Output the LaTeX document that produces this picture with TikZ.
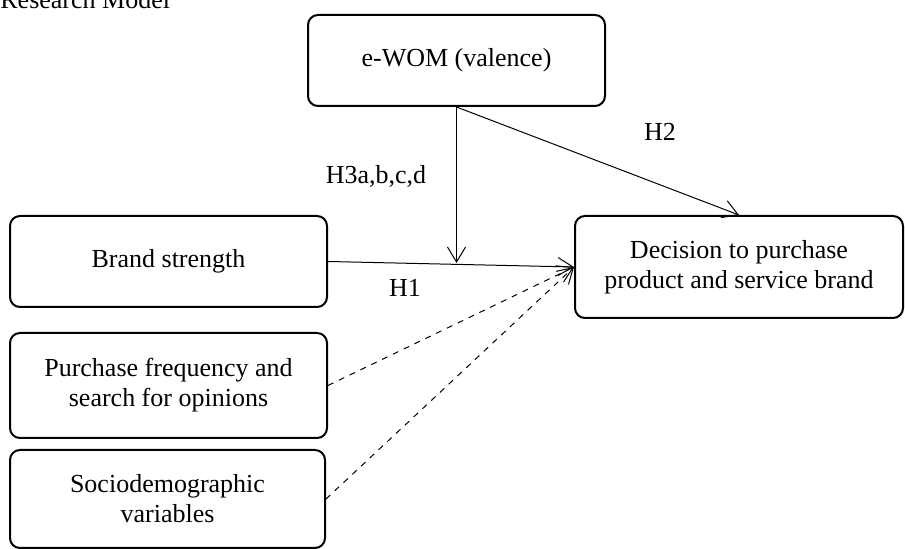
\documentclass[tikz,border=0pt]{standalone}
\usepackage{fontspec}
\setmainfont{Liberation Serif}
\usepackage{tikz}
\usetikzlibrary{arrows,arrows.meta,positioning}
\tikzstyle{box} = [draw,line width=1pt,rounded corners=5pt,align=center,inner sep=2pt]
\tikzstyle{hyp} = [->,line width=0.5pt]
\tikzstyle{ctrl} = [->,dashed,line width=0.5pt]

\begin{document}
\begin{tikzpicture}[x=0.5pt,y=-0.5pt,>={Straight Barb[length=7.5pt,width=9pt]},
	font=\fontsize{13}{15}\selectfont]
	\useasboundingbox (0,0) rectangle (905,549);
	
	\node[anchor=base west,inner sep=0pt] (title) at (0,9) {Research Model};
	
	\node[box,minimum width=148.5pt,minimum height=45.5pt] (ewom) at (456.5,60.5) {e-WOM (valence)};
	\node[box,minimum width=158.5pt,minimum height=45.5pt] (brand) at (168.5,261.5) {Brand strength};
	\node[box,minimum width=158.5pt,minimum height=52.5pt] (purch) at (168.5,385.5) {Purchase frequency and\\search for opinions};
	\node[box,minimum width=157.5pt,minimum height=49pt] (socio) at (167.5,499) {Sociodemographic\\variables};
	\node[box,minimum width=164pt,minimum height=51pt] (dec) at (739,267) {Decision to purchase\\product and service brand};
	
	\coordinate (mod) at (ewom.south |- 0,263);
	
	\path (brand.east) edge[hyp] (dec.west)
	(ewom.south) edge[hyp] (mod)
	(ewom.south) edge[hyp] (dec.north)
	(purch.east) edge[ctrl] (dec.west)
	(socio.east) edge[ctrl] (dec.west);
	
	\node (h1) at (405,288) {H1};
	\node (h2) at (660,132) {H2};
	\node (h3) at (376,176) {H3a,b,c,d};
\end{tikzpicture}
\end{document}
